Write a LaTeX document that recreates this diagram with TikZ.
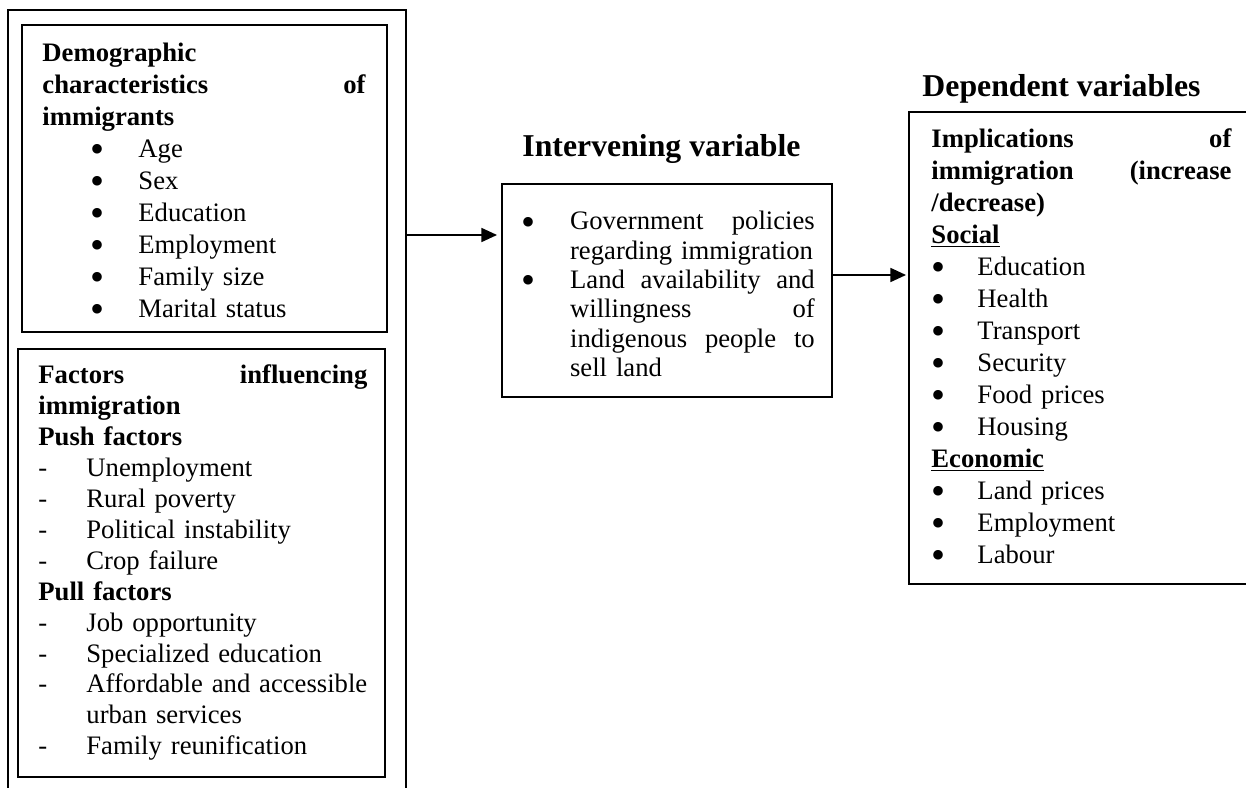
\documentclass[tikz,border=0pt]{standalone}
\usepackage{fontspec}
\setmainfont{Liberation Serif}
\usetikzlibrary{arrows.meta,fit}

\hyphenpenalty=10000
\exhyphenpenalty=10000
\hfuzz=20pt
\newcommand{\bdot}{\smash{\raisebox{-2.4pt}{\scalebox{1.5}{\textbullet}}}}
\newcommand{\bitem}[2][20.7pt]{\makebox[#1][l]{\bdot}#2}
\newcommand{\ditem}[1]{\makebox[21.6pt][l]{-}#1}

\tikzset{
  box/.style={draw, line width=0.9pt, inner sep=0pt},
  txt/.style={anchor=base west, inner sep=0pt},
  ttl/.style={anchor=base west, inner sep=0pt, font=\fontsize{14.3}{16}\selectfont\bfseries},
  arr/.style={line width=0.7pt, -{Triangle[length=7pt,width=6.3pt]}}
}

\begin{document}
\begin{tikzpicture}[x=0.45pt,y=-0.45pt]
  \useasboundingbox (0,0) rectangle (1246,788);

  % boxes
  \node[box, fit={(8,10) (406,800)}] (outer) {};
  \node[box, fit={(22,25) (387,332)}] (demo) {};
  \node[box, fit={(18,349) (385,777)}] (fact) {};
  \node[box, fit={(502,184) (832,397)}] (mid) {};
  \node[box, fit={(909,112) (1260,584)}] (dep) {};

  % titles
  \node[ttl] (midttl) at (522,157) {Intervening variable};
  \node[ttl] (depttl) at (922,97) {Dependent variables};

  % box texts
  \node[txt, text width=145.4pt, font=\fontsize{12}{14.35}\selectfont] (demotxt) at (42,62) {%
    \textbf{Demographic\\ characteristics \hfill of\\ immigrants}\\
    \hspace*{21.6pt}\bitem[21.6pt]{Age}\\
    \hspace*{21.6pt}\bitem[21.6pt]{Sex}\\
    \hspace*{21.6pt}\bitem[21.6pt]{Education}\\
    \hspace*{21.6pt}\bitem[21.6pt]{Employment}\\
    \hspace*{21.6pt}\bitem[21.6pt]{Family size}\\
    \hspace*{21.6pt}\bitem[21.6pt]{Marital status}};
  \node[txt, text width=148pt, font=\fontsize{12}{13.9}\selectfont] (facttxt) at (38,384) {%
    \textbf{Factors \hfill influencing\\ immigration\\ Push factors}\\
    \ditem{Unemployment}\\
    \ditem{Rural poverty}\\
    \ditem{Political instability}\\
    \ditem{Crop failure}\\
    \textbf{Pull factors}\\
    \ditem{Job opportunity}\\
    \ditem{Specialized education}\\
    \ditem{\mbox{Affordable and accessible}}\\
    \hspace*{21.6pt}urban services\\
    \ditem{Family reunification}};
  \node[txt, text width=132pt, font=\fontsize{12}{13.2}\selectfont] (midtxt) at (521,230) {%
    \bitem[21.9pt]{Government \hfill policies}\\
    \hspace*{21.9pt}\mbox{regarding immigration}\\
    \bitem[21.9pt]{Land \hfill availability \hfill and}\\
    \hspace*{21.9pt}willingness \hfill of\\
    \hspace*{21.9pt}indigenous \hfill people \hfill to\\
    \hspace*{21.9pt}sell land};
  \node[txt, text width=135pt, font=\fontsize{12}{14.4}\selectfont] (deptxt) at (931,147.5) {%
    \textbf{Implications \hfill of\\ immigration \hfill (increase\\ /decrease)}\\
    \underline{\textbf{Social}}\\
    \bitem{Education}\\
    \bitem{Health}\\
    \bitem{Transport}\\
    \bitem{Security}\\
    \bitem{Food prices}\\
    \bitem{Housing}\\
    \underline{\textbf{Economic}}\\
    \bitem{Land prices}\\
    \bitem{Employment}\\
    \bitem{Labour}};

  % arrows
  \draw[arr, shorten >=1.8pt] (outer.east |- 0,235) -- (mid.west |- 0,235);
  \draw[arr, shorten >=0.9pt] (mid.east |- 0,275) -- (dep.west |- 0,275);
\end{tikzpicture}
\end{document}
